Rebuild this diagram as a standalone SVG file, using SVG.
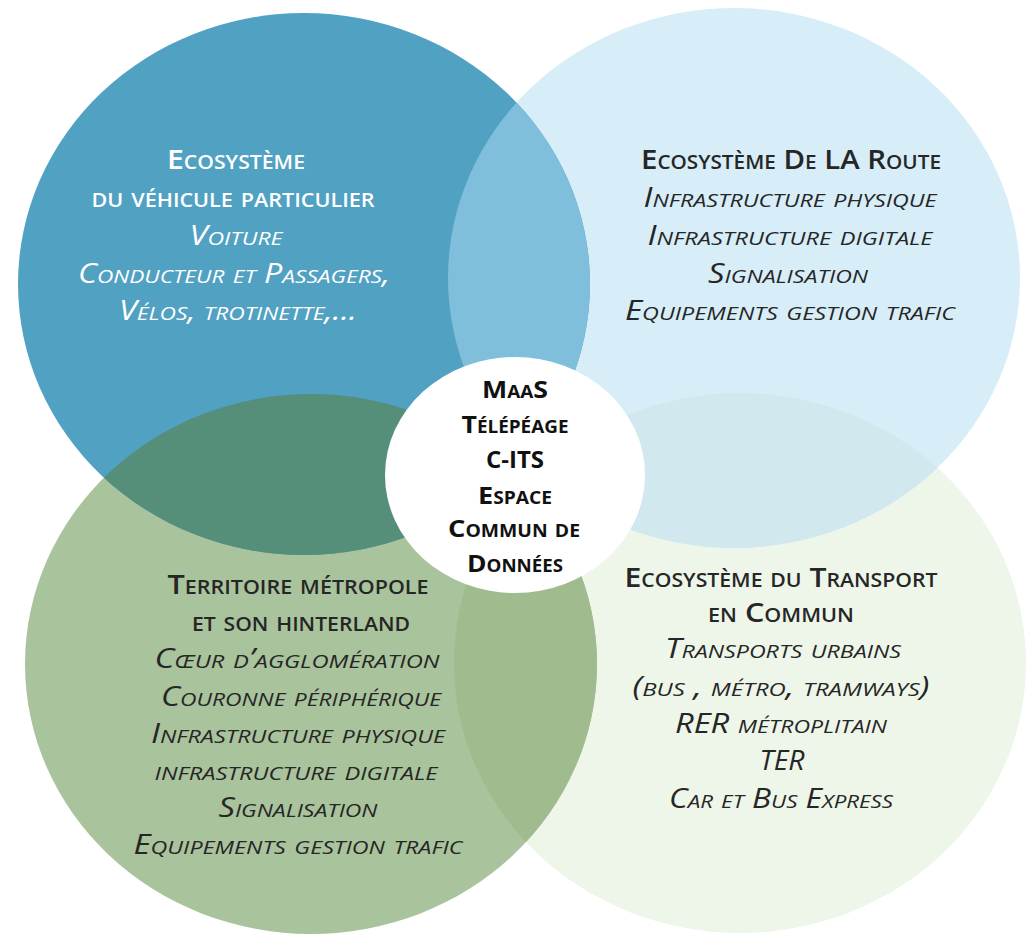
<svg xmlns="http://www.w3.org/2000/svg" width="1033" height="934" viewBox="0 0 1033 934">
  <style>
    text { font-family: "Open Sans", "Lato", "Liberation Sans", sans-serif; font-variant: small-caps; text-anchor: middle; font-size: 27px; }
    .b { font-weight: 600; }
    .i { font-style: italic; font-weight: 400; }
    .c { font-weight: 700; font-size: 24px; fill: #111; }
    .w { fill: #ffffff; }
    .d { fill: #262626; }
  </style>
  <defs>
    <clipPath id="clipTL"><ellipse cx="304" cy="284" rx="286" ry="271"/></clipPath>
    <clipPath id="clipTR"><ellipse cx="734" cy="278" rx="286" ry="270"/></clipPath>
    <clipPath id="clipBL"><ellipse cx="311" cy="664" rx="286" ry="270"/></clipPath>
  </defs>
  <rect width="1033" height="934" fill="#ffffff"/>

  <g id="circles">
    <ellipse cx="740" cy="663" rx="286" ry="270" fill="#eef6ea"/>
    <ellipse cx="734" cy="278" rx="286" ry="270" fill="#d7eef8"/>
    <ellipse cx="311" cy="664" rx="286" ry="270" fill="#a9c39c"/>
    <ellipse cx="304" cy="284" rx="286" ry="271" fill="#51a1c3"/>
  </g>
  <g id="overlaps">
    <ellipse cx="734" cy="278" rx="286" ry="270" fill="#80bfdb" clip-path="url(#clipTL)"/>
    <ellipse cx="311" cy="664" rx="286" ry="270" fill="#558f79" clip-path="url(#clipTL)"/>
    <ellipse cx="740" cy="663" rx="286" ry="270" fill="#d1e9ee" clip-path="url(#clipTR)"/>
    <ellipse cx="740" cy="663" rx="286" ry="270" fill="#a0bc8f" clip-path="url(#clipBL)"/>
  </g>
  <g id="connectors"/>

  <g id="node-vehicule">
    <text class="b w" x="236" y="169" textLength="138" lengthAdjust="spacingAndGlyphs">Ecosystème</text>
    <text class="b w" x="233" y="207" textLength="283" lengthAdjust="spacingAndGlyphs">du véhicule particulier</text>
    <text class="i w" x="236" y="245" textLength="93" lengthAdjust="spacingAndGlyphs">Voiture</text>
    <text class="i w" x="234" y="283" textLength="312" lengthAdjust="spacingAndGlyphs">Conducteur et Passagers,</text>
    <text class="i w" x="238" y="320" textLength="238" lengthAdjust="spacingAndGlyphs">Vélos, trotinette,...</text>
  </g>

  <g id="node-route">
    <text class="b d" x="791" y="169" textLength="300" lengthAdjust="spacingAndGlyphs">Ecosystème De LA Route</text>
    <text class="i d" x="790" y="207" textLength="293" lengthAdjust="spacingAndGlyphs">Infrastructure physique</text>
    <text class="i d" x="790" y="245" textLength="285" lengthAdjust="spacingAndGlyphs">Infrastructure digitale</text>
    <text class="i d" x="788" y="283" textLength="160" lengthAdjust="spacingAndGlyphs">Signalisation</text>
    <text class="i d" x="790" y="320" textLength="330" lengthAdjust="spacingAndGlyphs">Equipements gestion trafic</text>
  </g>

  <g id="node-territoire">
    <text class="b d" x="298" y="594" textLength="261" lengthAdjust="spacingAndGlyphs">Territoire métropole</text>
    <text class="b d" x="301" y="631" textLength="218" lengthAdjust="spacingAndGlyphs">et son hinterland</text>
    <text class="i d" x="297" y="668" textLength="285" lengthAdjust="spacingAndGlyphs">Cœur d’agglomération</text>
    <text class="i d" x="301" y="706" textLength="280" lengthAdjust="spacingAndGlyphs">Couronne périphérique</text>
    <text class="i d" x="298" y="743" textLength="294" lengthAdjust="spacingAndGlyphs">Infrastructure physique</text>
    <text class="i d" x="296" y="780" textLength="283" lengthAdjust="spacingAndGlyphs">infrastructure digitale</text>
    <text class="i d" x="298" y="817" textLength="159" lengthAdjust="spacingAndGlyphs">Signalisation</text>
    <text class="i d" x="298" y="854" textLength="329" lengthAdjust="spacingAndGlyphs">Equipements gestion trafic</text>
  </g>

  <g id="node-transport">
    <text class="b d" x="781" y="587" textLength="313" lengthAdjust="spacingAndGlyphs">Ecosystème du Transport</text>
    <text class="b d" x="781" y="622" textLength="146" lengthAdjust="spacingAndGlyphs">en Commun</text>
    <text class="i d" x="783" y="658" textLength="236" lengthAdjust="spacingAndGlyphs">Transports urbains</text>
    <text class="i d" x="781" y="696" textLength="297" lengthAdjust="spacingAndGlyphs">(bus , métro, tramways)</text>
    <text class="i d" x="781" y="733" textLength="212" lengthAdjust="spacingAndGlyphs">RER métroplitain</text>
    <text class="i d" x="782" y="770" textLength="45" lengthAdjust="spacingAndGlyphs">TER</text>
    <text class="i d" x="781" y="808" textLength="224" lengthAdjust="spacingAndGlyphs">Car et Bus Express</text>
  </g>

  <g id="node-centre">
    <ellipse cx="515" cy="475" rx="130" ry="118" fill="#ffffff"/>
    <text class="c" x="515" y="398" textLength="66" lengthAdjust="spacingAndGlyphs">MaaS</text>
    <text class="c" x="515" y="433" textLength="107" lengthAdjust="spacingAndGlyphs">Télépéage</text>
    <text class="c" x="515" y="468" textLength="58" lengthAdjust="spacingAndGlyphs">C-ITS</text>
    <text class="c" x="515" y="504" textLength="74" lengthAdjust="spacingAndGlyphs">Espace</text>
    <text class="c" x="514" y="537" textLength="132" lengthAdjust="spacingAndGlyphs">Commun de</text>
    <text class="c" x="515" y="572" textLength="96" lengthAdjust="spacingAndGlyphs">Données</text>
  </g>
</svg>
